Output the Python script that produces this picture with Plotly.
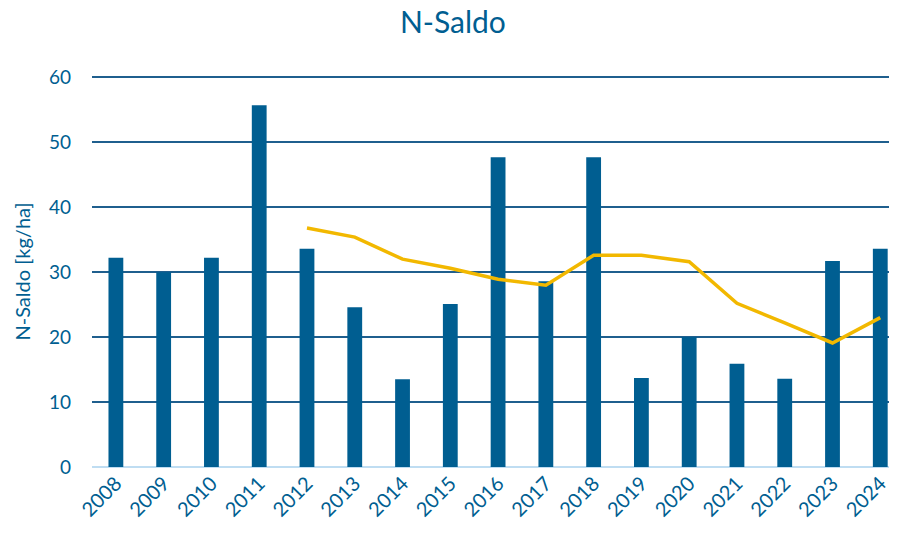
import plotly.graph_objects as go

# data
years = [str(y) for y in range(2008, 2025)]
saldo = [32.2, 30.0, 32.2, 55.7, 33.6, 24.6, 13.5, 25.1, 47.7, 28.6,
         47.7, 13.7, 20.0, 15.9, 13.6, 31.7, 33.6]
trend_years = years[4:]
trend = [36.8, 35.4, 32.0, 30.6, 28.9, 28.0, 32.6, 32.6, 31.6, 25.2, 22.2, 19.1, 23.0]

# style
col_bar = '#005E91'
col_line = '#F2B800'
col_text = '#005E91'
font_family = 'Lato, Open Sans, sans-serif'

fig = go.Figure()
fig.add_trace(go.Bar(x=years, y=saldo, marker=dict(color=col_bar, line=dict(width=0)),
                     name='N-Saldo'))
fig.add_trace(go.Scatter(x=trend_years, y=trend, mode='lines',
                         line=dict(color=col_line, width=3.5), name='Trend'))

# page has an 8px body margin, so margins are shifted to compensate
fig.update_layout(
    width=897, height=534,
    margin=dict(l=84, r=8, t=68, b=75, autoexpand=False),
    plot_bgcolor='white', paper_bgcolor='white',
    showlegend=False,
    bargap=0.69,
    font=dict(family=font_family, color=col_text),
    title=dict(text='N-Saldo', x=0.496, xanchor='center', yref='container', y=0.992,
               yanchor='top', font=dict(size=30, color=col_text, family=font_family)),
)
fig.update_xaxes(range=[-0.5, 16.35], tickangle=-45, tickfont=dict(size=20, color=col_text),
                 showgrid=False, showline=False, ticks='', automargin=False)
fig.update_yaxes(range=[0, 60.2], tickvals=[0, 10, 20, 30, 40, 50, 60],
                 tickfont=dict(size=19, color=col_text),
                 showgrid=True, gridcolor='#1F5F8E', gridwidth=2,
                 zeroline=True, zerolinecolor='#BFDDF2', zerolinewidth=2,
                 ticks='', ticklabelstandoff=20, automargin=False,
                 title=dict(text='N-Saldo [kg/ha]', font=dict(size=20, color=col_text), standoff=12))

fig.write_html("out.html")
